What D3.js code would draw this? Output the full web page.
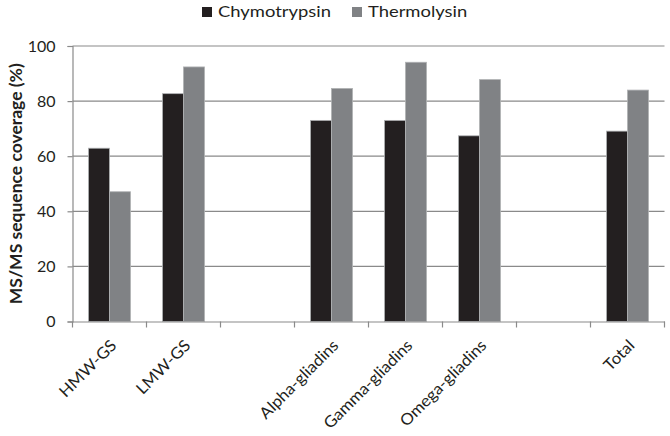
<!DOCTYPE html>
<html><head><meta charset="utf-8">
<script src="https://cdn.jsdelivr.net/npm/d3@7"></script>
<style>
html,body{margin:0;padding:0;background:#fff;}
text{font-family:Lato,"Open Sans",sans-serif;fill:#231f20;}
</style></head>
<body><svg id="c" width="670" height="436"></svg>
<script>
const categories = ["HMW-GS","LMW-GS","","Alpha-gliadins","Gamma-gliadins","Omega-gliadins"," ","Total"];
const series = ["Chymotrypsin","Thermolysin"];
const chymotrypsin = [62.9, 82.7, null, 73.0, 73.0, 67.4, null, 69.1];
const thermolysin = [47.1, 92.4, null, 84.6, 94.1, 87.8, null, 84.0];
const yTicks = [0,20,40,60,80,100];
const colors = ["#231f20","#808285"];

(function(){
const svg = d3.select("#c");
const pl = 72.5, pr = 664.5, pt = 46, pb = 321.5;
const fs = 16;
const x = d3.scaleBand().domain(categories).range([pl, pr]);
const y = d3.scaleLinear().domain([0,100]).range([pb, pt]);
const xs = d3.scaleBand().domain(series).range([16, x.bandwidth()-16]);
const color = d3.scaleOrdinal().domain(series).range(colors);

// gridlines
svg.append("g").selectAll("line").data(yTicks.filter(d=>d>0)).join("line")
  .attr("x1", pl).attr("x2", pr).attr("y1", d=>y(d)).attr("y2", d=>y(d))
  .attr("stroke","#8a8a8a").attr("stroke-width",1.2);

// y axis
const ya = svg.append("g").attr("transform",`translate(${pl},0)`)
  .call(d3.axisLeft(y).tickValues(yTicks).tickSize(5).tickPadding(12));
ya.select(".domain").attr("stroke","#8a8a8a").attr("stroke-width",1.2);
ya.selectAll(".tick line").attr("stroke","#8a8a8a").attr("stroke-width",1.2);
ya.selectAll(".tick text").attr("font-size",fs).attr("font-family","Lato").attr("fill","#231f20");

// bars
const rows = categories.map((c,i)=>({cat:c, vals:[chymotrypsin[i], thermolysin[i]]}));
const g = svg.append("g");
rows.forEach(r=>{
  r.vals.forEach((v,j)=>{
    if(v==null) return;
    g.append("rect")
      .attr("x", x(r.cat)+xs(series[j]))
      .attr("width", xs.bandwidth())
      .attr("y", y(v))
      .attr("height", y(0)-y(v))
      .attr("fill", color(series[j]))
      .attr("stroke","#b0b2b4").attr("stroke-width",0.8);
  });
});

// x axis
const xa = svg.append("g").attr("transform",`translate(0,${pb})`)
  .call(d3.axisBottom(x).tickSize(0).tickFormat(""));
xa.select(".domain").attr("stroke","#8a8a8a").attr("stroke-width",1.2);
xa.selectAll(".tick").remove();
const edges = d3.range(categories.length+1).map(i=>pl + i*x.step());
xa.selectAll("line.sep").data(edges).join("line").attr("class","sep")
  .attr("x1",d=>d).attr("x2",d=>d).attr("y1",0).attr("y2",6)
  .attr("stroke","#8a8a8a").attr("stroke-width",1.2);
svg.append("g").selectAll("text").data(categories.filter(c=>c.trim()!=="")).join("text")
  .attr("transform", d=>`translate(${x(d)+x.bandwidth()/2+8},${pb+25}) rotate(-45) scale(1.05,1)`)
  .attr("text-anchor","end").attr("font-size",fs).text(d=>d);

// y title
svg.append("text").attr("transform",`translate(22,${(pt+pb)/2}) rotate(-90)`)
  .attr("text-anchor","middle").attr("font-size",17.5).attr("font-weight","bold")
  .text("MS/MS sequence coverage (%)");

// legend
const lg = svg.append("g");
const lx = [202, 352];
series.forEach((s,i)=>{
  lg.append("rect").attr("x",lx[i]).attr("y",7).attr("width",10).attr("height",10).attr("fill",color(s));
  lg.append("text").attr("transform",`translate(${lx[i]+16},17) scale(1.15,1)`).attr("font-size",fs).text(s);
});
})();
</script></body></html>
